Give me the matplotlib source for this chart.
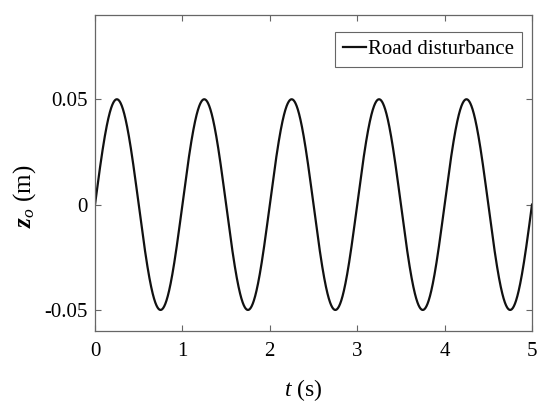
import matplotlib as mpl
mpl.use('Agg')
import matplotlib.pyplot as plt
import numpy as np

# road disturbance: 0.05 m amplitude, 1 s period, 0-5 s
amplitude = 0.05
frequency = 1.0
t_end = 5.0
x_ticks = [0, 1, 2, 3, 4, 5]
y_ticks = [-0.05, 0, 0.05]
y_tick_labels = ['-0.05', '0', '0.05']

plt.rcParams['font.family'] = 'Liberation Serif'
plt.rcParams['mathtext.fontset'] = 'custom'
plt.rcParams['mathtext.rm'] = 'Liberation Serif'
plt.rcParams['mathtext.it'] = 'Liberation Serif:italic'
plt.rcParams['mathtext.bf'] = 'Liberation Serif:bold:italic'

t = np.linspace(0, t_end, 2001)
z = amplitude * np.sin(2 * np.pi * frequency * t)

fig = plt.figure(figsize=(5.5, 4.11), dpi=100)
ax = fig.add_axes([95 / 550, 1 - 331 / 411, 437 / 550, 316 / 411])

ax.plot(t, z, color='#111111', lw=1.6, label='Road disturbance')
ax.set_xlim(0, t_end)
ax.set_ylim(-0.06, 0.09)
ax.set_xticks(x_ticks)
ax.set_yticks(y_ticks)
ax.set_yticklabels(y_tick_labels)

for s in ax.spines.values():
    s.set_color('#666666')
    s.set_linewidth(0.9)
ax.tick_params(direction='in', top=True, right=True, length=4, width=0.8,
               color='#666666', labelsize=15)
ax.tick_params(axis='x', pad=8)
ax.tick_params(axis='y', pad=5)

ax.set_xlabel(r'$t$ (s)', fontsize=17)
ax.set_ylabel(r'$\mathbf{z}_{\mathit{o}}$ (m)', fontsize=18)
ax.xaxis.set_label_coords(0.476, -0.145)
ax.yaxis.set_label_coords(-0.13, 0.425)

leg = ax.legend(loc='upper right', bbox_to_anchor=(0.977, 0.947), fontsize=15,
                handlelength=1.1, handletextpad=0.1, borderpad=0.38,
                borderaxespad=0, fancybox=False, framealpha=1)
leg.get_frame().set_edgecolor('#666666')
leg.get_frame().set_linewidth(0.8)

plt.savefig('out.png', dpi=100)
plt.close()
